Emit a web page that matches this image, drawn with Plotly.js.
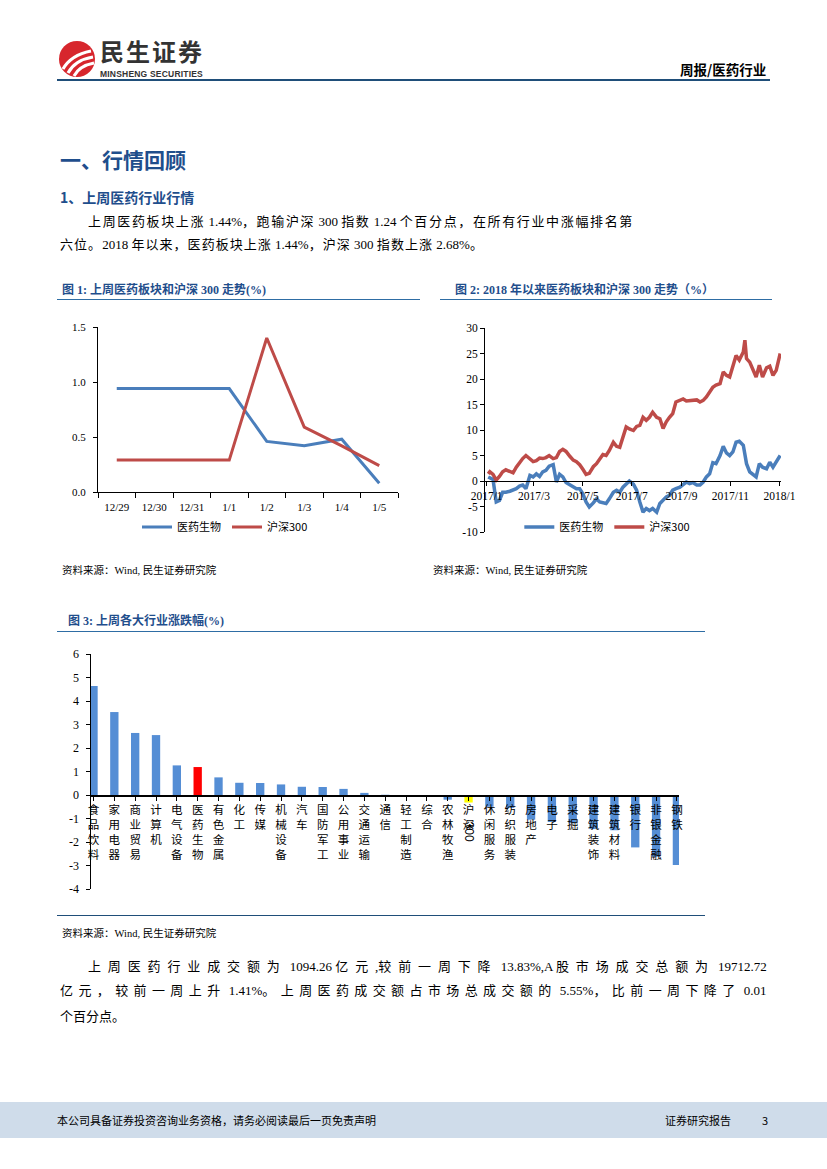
<!DOCTYPE html>
<html><head><meta charset="utf-8">
<script src="https://cdn.plot.ly/plotly-3.0.1.min.js"></script>
<style>
body{margin:0;width:827px;height:1169px;position:relative;background:#fff;overflow:hidden;font-family:"Liberation Serif","Noto Sans CJK SC",serif;color:#000}
.a{position:absolute;white-space:nowrap;line-height:1}
.blue{color:#1f4e8c;font-weight:bold}
.hl{position:absolute;height:0}
#f1,#f2,#f3{position:absolute}
</style></head><body>

<!-- header -->
<svg class="a" style="left:58px;top:40px" width="40" height="40" viewBox="0 0 40 40">
  <circle cx="19" cy="19" r="18" fill="#d7262d"/>
  <path d="M5 29 Q13 15 33 11" stroke="#fff" stroke-width="3.2" fill="none"/>
  <path d="M10 33 Q17 20 35 17" stroke="#fff" stroke-width="3.2" fill="none"/>
  <path d="M16 36 Q21 26 36 23" stroke="#fff" stroke-width="3" fill="none"/>
</svg>
<div class="a" style="left:100px;top:39px;font-family:'Noto Sans CJK SC';font-weight:bold;font-size:24px;line-height:24px;color:#333;letter-spacing:2px">民生证券</div>
<div class="a" style="left:100px;top:70px;font-family:'Liberation Sans';font-weight:bold;font-size:8.5px;color:#333;letter-spacing:0.2px">MINSHENG SECURITIES</div>
<div class="a" style="left:680px;top:63px;font-family:'Noto Sans CJK SC';font-weight:bold;font-size:13.5px">周报/医药行业</div>
<div class="hl" style="left:57px;top:79px;width:713px;border-top:2px solid #1f4e79"></div>

<div class="a blue" style="left:60px;top:149px;font-family:'Noto Sans CJK SC';font-size:21px">一、行情回顾</div>
<div class="a blue" style="left:60px;top:190px;font-family:'Noto Sans CJK SC';font-size:14px">1、上周医药行业行情</div>
<div id="p1" class="a" style="left:88px;top:215px;font-size:13px">上周医药板块上涨 1.44%，跑输沪深 300 指数 1.24 个百分点，在所有行业中涨幅排名第</div>
<div id="p2" class="a" style="left:60px;top:238px;font-size:13px">六位。2018 年以来，医药板块上涨 1.44%，沪深 300 指数上涨 2.68%。</div>

<div class="a blue" style="left:62px;top:284px;font-size:12px">图 1: 上周医药板块和沪深 300 走势(%)</div>
<div class="a blue" style="left:455px;top:284px;font-size:12px">图 2: 2018 年以来医药板块和沪深 300 走势（%）</div>
<div class="hl" style="left:57px;top:299px;width:363px;border-top:1.5px solid #2e6da4"></div>
<div class="hl" style="left:440px;top:299px;width:332px;border-top:1.5px solid #2e6da4"></div>

<div id="f1" style="left:57px;top:302px;width:365px;height:245px"></div>
<div id="f2" style="left:435px;top:302px;width:375px;height:245px"></div>

<div class="a" style="left:62px;top:566px;font-size:10.5px">资料来源：Wind, 民生证券研究院</div>
<div class="a" style="left:433px;top:566px;font-size:10.5px">资料来源：Wind, 民生证券研究院</div>

<div class="a blue" style="left:68px;top:615px;font-size:12px">图 3: 上周各大行业涨跌幅(%)</div>
<div class="hl" style="left:57px;top:631px;width:648px;border-top:1.5px solid #2e6da4"></div>
<div id="f3" style="left:57px;top:640px;width:650px;height:275px"></div>
<div class="hl" style="left:57px;top:915px;width:648px;border-top:1.5px solid #1f4e79"></div>
<div class="a" style="left:62px;top:929px;font-size:10.5px">资料来源：Wind, 民生证券研究院</div>

<div id="p3" class="a" style="left:88px;top:960px;font-size:13px">上周医药行业成交额为 1094.26 亿元,较前一周下降 13.83%,A 股市场成交总额为 19712.72</div>
<div id="p4" class="a" style="left:60px;top:984px;font-size:13px">亿元，较前一周上升 1.41%。上周医药成交额占市场总成交额的 5.55%，比前一周下降了 0.01</div>
<div class="a" style="left:60px;top:1010px;font-size:13px">个百分点。</div>

<!-- footer -->
<div style="position:absolute;left:0;top:1102px;width:827px;height:36px;background:#cfdcea"></div>
<div class="a" style="left:57px;top:1115px;font-family:'Noto Sans CJK SC';font-size:11px">本公司具备证券投资咨询业务资格，请务必阅读最后一页免责声明</div>
<div class="a" style="left:665px;top:1115px;font-family:'Noto Sans CJK SC';font-size:11px">证券研究报告</div>
<div class="a" style="left:762px;top:1115px;font-family:'Noto Sans CJK SC';font-size:11px">3</div>

<script>
// ---------- Figure 1 data ----------
var days1 = ['12/29','12/30','12/31','1/1','1/2','1/3','1/4','1/5'];
var pharma1 = [0.94,0.94,0.94,0.94,0.46,0.42,0.48,0.08];
var hs300_1 = [0.29,0.29,0.29,0.29,1.40,0.59,0.42,0.24];
var yTicks1 = [0, 0.5, 1, 1.5];
var yLabels1 = ['0.0','0.5','1.0','1.5'];

// ---------- Figure 2 data ----------
var dates2 = ['2017-01-03','2017-01-05','2017-01-09','2017-01-13','2017-01-17','2017-01-21','2017-01-25','2017-01-30',
'2017-02-03','2017-02-07','2017-02-11','2017-02-15','2017-02-19','2017-02-24','2017-02-28','2017-03-04','2017-03-08',
'2017-03-12','2017-03-16','2017-03-20','2017-03-25','2017-03-29','2017-04-02','2017-04-06','2017-04-10','2017-04-15',
'2017-04-19','2017-04-23','2017-04-27','2017-05-01','2017-05-05','2017-05-09','2017-05-14','2017-05-18','2017-05-22',
'2017-05-26','2017-05-30','2017-06-03','2017-06-08','2017-06-12','2017-06-16','2017-06-20','2017-06-24','2017-06-28',
'2017-07-03','2017-07-07','2017-07-11','2017-07-15','2017-07-19','2017-07-23','2017-07-27','2017-08-01','2017-08-05',
'2017-08-09','2017-08-13','2017-08-17','2017-08-21','2017-08-25','2017-08-30','2017-09-03','2017-09-07','2017-09-11',
'2017-09-15','2017-09-20','2017-09-24','2017-09-28','2017-10-02','2017-10-06','2017-10-10','2017-10-14','2017-10-19',
'2017-10-23','2017-10-27','2017-10-31','2017-11-04','2017-11-08','2017-11-12','2017-11-17','2017-11-19','2017-11-21',
'2017-11-25','2017-11-29','2017-12-03','2017-12-07','2017-12-11','2017-12-16','2017-12-20','2017-12-24','2017-12-28','2018-01-02'];
var pharma2 = [0.8,0.65,0.3,-4.1,-3.8,-2.2,-2.2,-2.0,-1.7,-1.5,-1.0,-0.8,-1.5,1.1,0.8,1.4,0.9,1.8,2.1,2.9,3.2,-0.2,1.3,0.8,
-0.3,-0.7,-1.2,-1.5,-1.5,-2.5,-4.1,-5.1,-4.3,-3.5,-4.1,-4.3,-4.4,-3.5,-2.2,-1.8,-2.2,-1.2,-0.5,0.0,-0.6,-1.8,-4.1,-6.1,
-5.4,-5.8,-5.4,-6.1,-4.4,-3.8,-3.1,-2.8,-1.8,-1.5,-1.2,-0.7,-0.2,-0.5,-0.3,-0.8,-0.8,-0.2,0.8,1.4,3.6,3.4,5.0,6.8,5.5,
5.0,5.7,7.6,7.8,7.0,5.4,3.4,1.8,1.3,0.8,3.4,2.7,2.4,3.7,2.7,3.7,5.0];
var hs300_2 = [1.4,1.8,1.3,0.2,0.9,1.8,2.2,1.8,1.6,2.7,3.7,4.4,5.0,4.3,3.8,4.0,4.5,4.4,4.6,5.0,4.4,4.6,5.8,6.2,5.8,4.8,
4.1,3.8,3.2,2.3,1.3,1.5,2.8,3.4,4.3,5.2,5.0,6.0,7.6,6.8,6.6,8.5,10.6,10.2,9.9,10.7,10.9,12.5,11.9,12.5,13.5,12.5,12.2,
10.3,11.6,12.5,13.2,15.5,15.8,16.1,15.7,15.8,15.8,15.9,15.5,15.8,16.5,17.5,18.4,18.8,19.1,21.4,20.7,20.4,22.7,24.6,
23.7,25.3,27.6,24.0,23.3,21.7,20.4,22.7,20.4,22.2,22.5,20.7,21.7,25.0];
var tickVals2 = ['2017-01-01','2017-03-01','2017-05-01','2017-07-01','2017-09-01','2017-11-01','2018-01-01'];
var tickText2 = ['2017/1','2017/3','2017/5','2017/7','2017/9','2017/11','2018/1'];
var yTicks2 = [-10,-5,0,5,10,15,20,25,30];
var yLabels2 = ['-10','-5','0','5','10','15','20','25','30'];

// ---------- Figure 3 data ----------
var industries = ['食品饮料','家用电器','商业贸易','计算机','电气设备','医药生物','有色金属','化工','传媒','机械设备','汽车',
'国防军工','公用事业','交通运输','通信','轻工制造','综合','农林牧渔','沪深300','休闲服务','纺织服装','房地产','电子','采掘',
'建筑装饰','建筑材料','银行','非银金融','钢铁'];
var changes = [4.64,3.53,2.64,2.55,1.26,1.19,0.75,0.52,0.51,0.45,0.35,0.34,0.26,0.09,0.01,-0.01,-0.02,-0.2,-0.32,-0.5,
-0.55,-1.05,-1.15,-1.2,-1.45,-1.5,-2.23,-2.63,-2.98];
var yTicks3 = [-4,-3,-2,-1,0,1,2,3,4,5,6];
var yLabels3 = ['-4','-3','-2','-1','0','1','2','3','4','5','6'];

// spread the CJK characters of a paragraph line so that it spans its reference width
function fit(id, target){
  var el=document.getElementById(id);
  var t=el.textContent;
  el.innerHTML=t.split('').map(function(ch){
    return /[\u3000-\u303f\u4e00-\u9fff\uff00-\uffef]/.test(ch)?'<span class="c">'+ch+'</span>':ch;
  }).join('');
  var w=el.getBoundingClientRect().width;
  var cs=el.querySelectorAll('.c');
  var ls=(target-w)/cs.length;
  for(var i=0;i<cs.length;i++){cs[i].style.letterSpacing=ls+'px';}
}
fit('p1',546); fit('p2',424); fit('p3',679); fit('p4',707);

var BLUE='#4A7EBB', RED='#BE4B48';
var serif='Liberation Serif, Noto Sans CJK SC, serif';
var cjk='Noto Sans CJK SC, sans-serif';
var cfg={staticPlot:true,displayModeBar:false};

Plotly.newPlot('f1',[
 {x:days1,y:pharma1,type:'scatter',mode:'lines',name:'医药生物',line:{color:BLUE,width:3}},
 {x:days1,y:hs300_1,type:'scatter',mode:'lines',name:'沪深300',line:{color:RED,width:3}}
],{
 width:365,height:245,margin:{l:41,r:24,t:25,b:55},paper_bgcolor:'rgba(0,0,0,0)',plot_bgcolor:'rgba(0,0,0,0)',
 font:{family:serif,size:11,color:'#000'},
 xaxis:{type:'category',range:[-0.5,7.5],tickson:'boundaries',ticks:'outside',ticklen:5,tickcolor:'#000',
   ticklabelstandoff:5,showline:true,linecolor:'#000',linewidth:1,showgrid:false,zeroline:false,tickfont:{family:serif,size:11}},
 yaxis:{range:[0,1.5],tickvals:yTicks1,ticktext:yLabels1,ticks:'outside',ticklen:4,tickcolor:'#000',showline:true,
   ticklabelstandoff:5,linecolor:'#000',linewidth:1,showgrid:false,zeroline:false,tickfont:{family:serif,size:11}},
 showlegend:true,
 legend:{orientation:'h',x:0.43,xanchor:'center',yref:'container',y:0.082,yanchor:'middle',font:{family:cjk,size:11},
   bgcolor:'rgba(0,0,0,0)',itemwidth:30,entrywidth:45}
},cfg);

// y-axis domain leaves a strip under -10 so that the legend sits inside the paper area
Plotly.newPlot('f2',[
 {x:dates2,y:pharma2,type:'scatter',mode:'lines',name:'医药生物',line:{color:BLUE,width:3.5}},
 {x:dates2,y:hs300_2,type:'scatter',mode:'lines',name:'沪深300',line:{color:RED,width:3.5}}
],{
 width:375,height:245,margin:{l:50,r:29,t:26,b:0},paper_bgcolor:'rgba(0,0,0,0)',plot_bgcolor:'rgba(0,0,0,0)',
 font:{family:serif,size:11,color:'#000'},
 xaxis:{type:'date',range:['2016-12-30','2018-01-03'],anchor:'free',position:0.3013,tickvals:tickVals2,ticktext:tickText2,
   ticks:'outside',ticklen:4,tickcolor:'#000',showline:true,linecolor:'#000',linewidth:1,showgrid:false,zeroline:false,
   tickfont:{family:serif,size:11.5}},
 yaxis:{range:[-10,30],domain:[0.0684,1],tickvals:yTicks2,ticktext:yLabels2,ticks:'outside',ticklen:4,tickcolor:'#000',showline:true,
   linecolor:'#000',linewidth:1,showgrid:false,zeroline:false,tickfont:{family:serif,size:11.5}},
 showlegend:true,
 legend:{orientation:'h',x:0.42,xanchor:'center',y:0.091,yanchor:'middle',font:{family:cjk,size:11},
   bgcolor:'rgba(0,0,0,0)',itemwidth:30,entrywidth:45}
},cfg);

var barColors = industries.map(function(n){return n==='医药生物'?'#FF0000':(n==='沪深300'?'#FFFF00':'#558ED5');});
var stacked = industries.map(function(n){
  if(n==='沪深300') return '沪<br>深';
  return n.split('').join('<br>');
});
var hsIdx = industries.indexOf('沪深300');
Plotly.newPlot('f3',[
 {x:industries,y:changes,type:'bar',width:0.4,marker:{color:barColors},showlegend:false}
],{
 width:650,height:275,margin:{l:34,r:28,t:14,b:26},paper_bgcolor:'rgba(0,0,0,0)',plot_bgcolor:'rgba(0,0,0,0)',
 font:{family:serif,size:12,color:'#000'},
 xaxis:{type:'category',range:[-0.12,28.1],anchor:'free',position:0.4,tickvals:industries,ticktext:stacked,tickangle:0,
   ticks:'outside',ticklen:4,tickcolor:'#000',showline:true,linecolor:'#000',linewidth:1.5,showgrid:false,zeroline:false,
   tickfont:{family:cjk,size:11.5}},
 yaxis:{range:[-4,6],tickvals:yTicks3,ticktext:yLabels3,ticks:'outside',ticklen:4,tickcolor:'#000',showline:true,
   ticklabelstandoff:4,linecolor:'#000',linewidth:1.5,showgrid:false,zeroline:false,tickfont:{family:serif,size:12}},
 annotations:[{x:hsIdx,xref:'x',y:0.195,yref:'paper',text:'300',textangle:90,showarrow:false,
   font:{family:'Liberation Sans, sans-serif',size:12,color:'#000'}}]
},cfg);
</script>
</body></html>
